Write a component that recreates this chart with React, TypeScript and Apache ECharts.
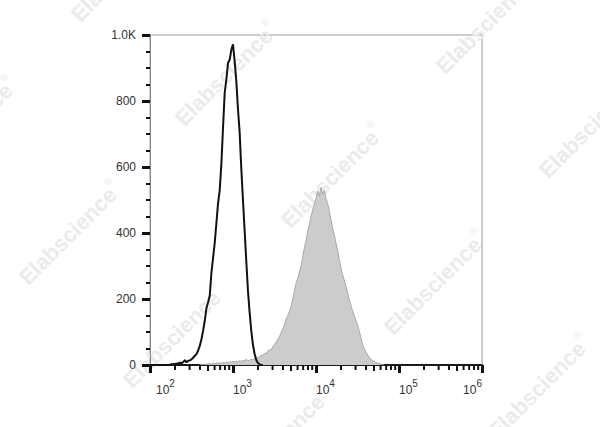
import React, { useEffect, useRef } from 'react';
import * as echarts from 'echarts';

// Histogram bins are in log10 units of fluorescence intensity
const BIN = 0.02;
const BLACK_START = 2.0;
const BLACK_COUNTS = [
  0, 0, 0, 0, 0, 0, 0, 0, 0, 0,
  0, 0, 1, 2, 2, 3, 4, 5, 7, 6,
  9, 15, 8, 13, 14, 17, 22, 28, 33, 44,
  58, 78, 104, 134, 172, 190, 210, 280, 325, 370,
  430, 490, 530, 610, 720, 825, 865, 915, 925, 955,
  972, 920, 860, 775, 705, 595, 500, 408, 315, 226,
  160, 104, 62, 34, 15, 6, 2, 0, 0,
];

const GRAY_START = 2.6;
const GRAY_COUNTS = [
  0, 1, 2, 1, 3, 2, 4, 3, 5, 4,
  6, 5, 7, 5, 8, 6, 9, 7, 10, 8,
  11, 9, 12, 10, 13, 11, 14, 12, 18, 13,
  15, 17, 16, 20, 22, 21, 26, 29, 30, 35,
  36, 42, 47, 45, 55, 62, 70, 78, 86, 98,
  110, 122, 138, 150, 162, 178, 200, 225, 248, 262,
  282, 300, 328, 355, 378, 405, 425, 450, 470, 488,
  505, 528, 512, 538, 518, 530, 505, 490, 468, 440,
  415, 395, 370, 348, 320, 295, 274, 258, 240, 218,
  198, 182, 165, 150, 136, 122, 104, 84, 64, 50,
  40, 32, 24, 18, 14, 11, 8, 6, 4, 3,
  1, 0,
];

const X_DECADES = [2, 3, 4, 5, 6];
const MINOR_MULTIPLIERS = [2, 3, 4, 5, 6, 7, 8, 9];
const Y_TICKS = [0, 200, 400, 600, 800, 1000];
const Y_TICK_LABELS = ['0', '200', '400', '600', '800', '1.0K'];

const WATERMARK_TEXT = 'Elabscience';
const WATERMARK_CENTERS = [
  [121, -31], [225, 73], [331, 175], [434, 282], [538, 386],
  [486, 21], [589, 125], [-35, 128], [69, 232], [173, 335], [277, 439],
];

const FONT = '"Liberation Sans", Arial, Helvetica, sans-serif';

function toPairs(start: number, counts: number[]) {
  return counts.map((c, i) => [Number((start + i * BIN).toFixed(2)), c]);
}

export default function App() {
  const ref = useRef<HTMLDivElement>(null);

  useEffect(() => {
    if (!ref.current) return;
    const chart = echarts.init(ref.current, undefined, { renderer: 'svg' });

    const minorTicks: number[][] = [];
    for (let d = X_DECADES[0]; d < X_DECADES[X_DECADES.length - 1]; d++) {
      for (const k of MINOR_MULTIPLIERS) {
        minorTicks.push([d + Math.log10(k), k === 5 ? 6 : 5]);
      }
    }

    const watermarks = WATERMARK_CENTERS.map(([x, y]) => ({
      type: 'text',
      x,
      y,
      rotation: Math.PI / 4,
      z: 0,
      silent: true,
      style: {
        text: `{a|${WATERMARK_TEXT}}{r|®}`,
        align: 'center',
        verticalAlign: 'middle',
        rich: {
          a: { fontSize: 22, fontWeight: 'bold', fontFamily: FONT, fill: '#ebebeb', lineHeight: 26, verticalAlign: 'bottom' },
          r: { fontSize: 10, fontFamily: FONT, fill: '#ebebeb', lineHeight: 12, verticalAlign: 'top' },
        },
      },
    }));

    const sub = { fontSize: 10, color: '#333', fontFamily: FONT, lineHeight: 11, verticalAlign: 'top' };
    const base = { fontSize: 12, color: '#333', fontFamily: FONT, lineHeight: 18, verticalAlign: 'bottom' };

    chart.setOption({
      animation: false,
      backgroundColor: '#ffffff',
      graphic: watermarks,
      grid: {
        left: 150,
        right: 118,
        top: 35,
        bottom: 62,
        show: true,
        borderColor: '#999',
        borderWidth: 1,
        backgroundColor: 'transparent',
      },
      xAxis: {
        type: 'value',
        min: 2,
        max: 6,
        interval: 1,
        axisLine: { show: true, onZero: false, lineStyle: { color: '#1a1a1a', width: 2 } },
        axisTick: { show: true, length: 8, lineStyle: { color: '#111', width: 3 } },
        splitLine: { show: false },
        axisLabel: {
          margin: 13,
          align: 'left',
          alignMaxLabel: 'right',
          formatter: (v: number) => (v === X_DECADES[0] ? `{b0|10}{s|${v}}` : `{b|10}{s|${v}}`),
          rich: {
            b: base,
            b0: { ...base, padding: [0, 0, 0, 6] },
            s: sub,
          },
        },
      },
      yAxis: {
        type: 'value',
        min: 0,
        max: 1000,
        interval: 200,
        axisLine: { show: true, lineStyle: { color: '#888', width: 1 } },
        axisTick: { show: true, length: 8, lineStyle: { color: '#111', width: 3 } },
        minorTick: { show: true, splitNumber: 4, length: 4, lineStyle: { color: '#111', width: 2 } },
        splitLine: { show: false },
        minorSplitLine: { show: false },
        axisLabel: {
          margin: 14,
          color: '#333',
          fontSize: 12,
          fontFamily: FONT,
          formatter: (v: number) => {
            const i = Y_TICKS.indexOf(v);
            return i >= 0 ? Y_TICK_LABELS[i] : '';
          },
        },
      },
      series: [
        {
          name: 'stained',
          type: 'line',
          data: toPairs(GRAY_START, GRAY_COUNTS),
          showSymbol: false,
          z: 3,
          lineStyle: { color: '#a8a8a8', width: 1 },
          areaStyle: { color: '#cccccc', opacity: 1 },
        },
        {
          name: 'control',
          type: 'line',
          data: toPairs(BLACK_START, BLACK_COUNTS),
          showSymbol: false,
          z: 4,
          lineStyle: { color: '#111', width: 2 },
        },
        {
          name: 'minorTicks',
          type: 'custom',
          data: minorTicks,
          z: 5,
          silent: true,
          renderItem: (params: any, api: any) => {
            const p = api.coord([api.value(0), 0]);
            const len = api.value(1);
            return {
              type: 'line',
              shape: { x1: p[0], y1: p[1], x2: p[0], y2: p[1] + len },
              style: { stroke: '#111', lineWidth: 2 },
            };
          },
        },
      ],
    });

    return () => chart.dispose();
  }, []);

  return (
    <div
      ref={ref}
      style={{ position: 'fixed', left: 0, top: 0, width: 600, height: 427, background: '#fff' }}
    />
  );
}
